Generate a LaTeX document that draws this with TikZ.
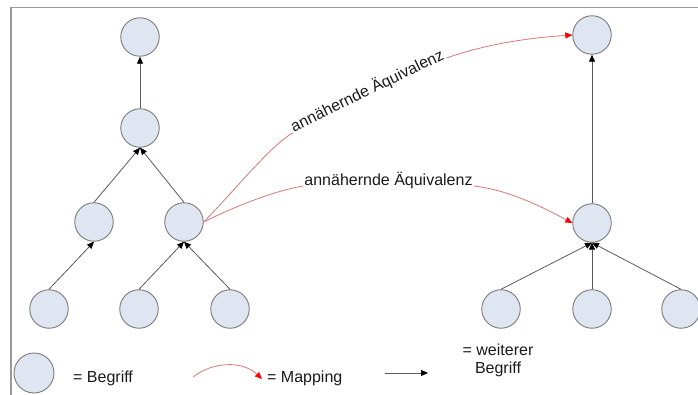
\documentclass[tikz,border=0pt]{standalone}
\usepackage{fontspec}
\setmainfont{Liberation Sans}
\usetikzlibrary{arrows.meta}
\definecolor{cfill}{HTML}{DFE6F2}
\definecolor{cedge}{HTML}{7A7A7A}
\definecolor{mapred}{HTML}{D47878}
\definecolor{linegray}{HTML}{5A5A5A}
\definecolor{txt}{HTML}{1A1A1A}
\definecolor{framegray}{HTML}{9A9A9A}
\tikzset{
  begriff/.style={circle, draw=cedge, fill=cfill, line width=0.9pt, minimum size=38.5pt, inner sep=0pt},
  rel/.style={draw=linegray, line width=0.8pt, -{Triangle[length=7pt,width=6pt,color=black]}},
  mapping/.style={draw=mapred, line width=0.8pt},
  maparrow/.style={mapping, -{Triangle[length=7pt,width=6pt,color=red]}},
  lbl/.style={font=\fontsize{16}{18}\selectfont, text=txt, inner sep=1pt},
}
\begin{document}
\begin{tikzpicture}[x=1pt, y=-1pt]
\useasboundingbox (0,0) rectangle (698,395);
% frame
\draw[framegray, line width=1.5pt] (11,395) -- (11,7.5) -- (698,7.5);
% left tree
\node[begriff] (lt)  at (140,37)  {};
\node[begriff] (lm)  at (140,128) {};
\node[begriff] (l2l) at (94,222)  {};
\node[begriff] (l2r) at (184,222) {};
\node[begriff] (lb1) at (49,309)  {};
\node[begriff] (lb2) at (139,309) {};
\node[begriff] (lb3) at (230,309) {};
% right tree
\node[begriff] (rt)  at (592,35)  {};
\node[begriff] (rv2) at (592,223) {};
\node[begriff] (rb1) at (501,309) {};
\node[begriff] (rb2) at (592,309) {};
\node[begriff] (rb3) at (681,309) {};
% relations left
\draw[rel] (lm.north) -- (lt.south);
\draw[rel] (l2l.north) -- (lm.south);
\draw[rel] (l2r.north) -- (lm.south);
\draw[rel] (lb1.north) -- (l2l.south);
\draw[rel] (lb2.north) -- (l2r.south);
\draw[rel] (lb3.north) -- (l2r.south);
% relations right
\draw[rel] (rv2.north) -- (rt.south);
\draw[rel] (rb1.north) -- (rv2.south);
\draw[rel] (rb2.north) -- (rv2.south);
\draw[rel] (rb3.north) -- (rv2.south);
% mapping labels
\node[lbl, anchor=base, rotate=26] (ma1) at (369.5,95.5) {annähernde Äquivalenz};
\node[lbl, anchor=base] (ma2) at (388.5,186) {annähernde Äquivalenz};
% mappings
\draw[mapping] (l2r.east) .. controls +(35,-36) and +(-22,12.5) .. (ma1.base west);
\draw[maparrow] (ma1.base east) .. controls +(40,-14) and +(-45,3) .. (rt.west);
\draw[mapping] (l2r.east) .. controls +(30,-15) and +(-30,5) .. (ma2.base west);
\draw[maparrow] (ma2.base east) .. controls +(35,4) and +(-30,-16) .. (rv2.west);
% legend
\node[begriff, minimum size=40pt] (lg) at (34,373) {};
\node[lbl, anchor=base west] (lgt) at (72,382) {= Begriff};
\coordinate (m1) at (193,377);
\coordinate (m2) at (262,379);
\draw[maparrow] (m1) .. controls (212,362) and (242,360) .. (m2);
\node[lbl, anchor=base west] (lmt) at (266,382) {= Mapping};
\coordinate (a1) at (385,373);
\coordinate (a2) at (428,373);
\draw[rel] (a1) -- (a2);
\node[lbl, anchor=base, align=center] (lwt) at (498,373) {= weiterer\\Begriff};
\end{tikzpicture}
\end{document}
